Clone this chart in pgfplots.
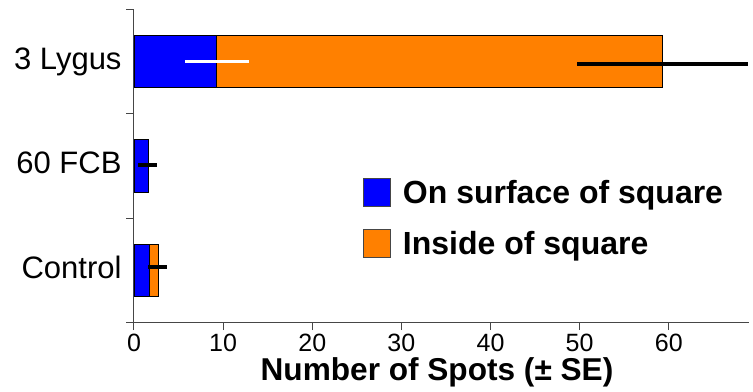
\documentclass[border=0pt]{standalone}
\usepackage{fontspec}
\setmainfont{Liberation Sans}
\usepackage{pgfplots}
\pgfplotsset{compat=1.18}
\definecolor{myblue}{RGB}{0,0,255}
\definecolor{myorange}{RGB}{255,128,0}
\definecolor{axgray}{RGB}{70,70,70}
\begin{document}
\begin{tikzpicture}
\useasboundingbox (-134bp,-69.3bp) rectangle (619bp,322.7bp);
\begin{axis}[
  at={(0,0)}, anchor=south west,
  scale only axis, width=615bp, height=313.4bp,
  xbar stacked, bar width=52.7bp,
  xmin=0, xmax=69, ymin=-0.5, ymax=2.5,
  axis lines*=left,
  axis line style={axgray, line width=1bp},
  tick align=outside,
  major tick length=7.5bp,
  minor tick length=7.5bp,
  tick style={axgray, line width=1bp},
  xtick={0,10,...,60},
  ytick={0,1,2},
  yticklabels={Control,60 FCB,3 Lygus},
  minor ytick={-0.5,0.5,1.5,2.5},
  every major y tick/.append style={draw=none},
  /pgf/number format/assume math mode=true,
  xticklabel style={font=\fontsize{25bp}{30bp}\selectfont, inner sep=3.5bp},
  yticklabel style={font=\fontsize{31bp}{37bp}\selectfont, inner sep=4.8bp, text height=22bp, text depth=6.5bp},
  xlabel={Number of Spots (± SE)},
  xlabel style={font=\fontsize{31.6bp}{37bp}\selectfont\bfseries, at={(axis description cs:0.5,0)}, anchor=base, yshift=-58bp, xshift=-4.5bp},
  legend cell align=left,
  legend style={at={(0.372,0.4617)}, anchor=north west, draw=none, fill=none,
    inner sep=0pt, row sep=18bp,
    font=\fontsize{32bp}{37bp}\selectfont\bfseries,
    nodes={inner sep=0pt, text height=24bp, text depth=8bp},
    /tikz/every odd column/.append style={column sep=12bp}},
  legend image code/.code={\draw[#1, draw=axgray, line width=1bp] (0bp,-11.2bp) rectangle (27bp,16.5bp);},
]
\addplot[fill=myblue, draw=black, line width=0.8bp] coordinates {(1.7,0) (1.65,1) (9.3,2)};
\addplot[fill=myorange, draw=black, line width=0.8bp] coordinates {(1.0,0) (0,1) (50.0,2)};
\legend{On surface of square, Inside of square}
\end{axis}
\begin{axis}[
  at={(0,0)}, anchor=south west,
  scale only axis, width=615bp, height=313.4bp,
  xmin=0, xmax=69, ymin=-0.5, ymax=2.5,
  hide axis,
]
\addplot[draw=none, mark=none, error bars/.cd, x dir=both, x explicit, error mark=none,
  error bar style={draw=white, line width=3.3bp}]
  coordinates {(9.3,2) +- (3.6,0)};
\addplot[draw=none, mark=none, error bars/.cd, x dir=both, x explicit, error mark=none,
  error bar style={draw=black, line width=3.8bp}]
  coordinates {(59.3,1.978) +- (9.6,0) (1.55,1.01) +- (1.05,0) (2.65,0.03) +- (1.05,0)};
\end{axis}
\end{tikzpicture}
\end{document}
